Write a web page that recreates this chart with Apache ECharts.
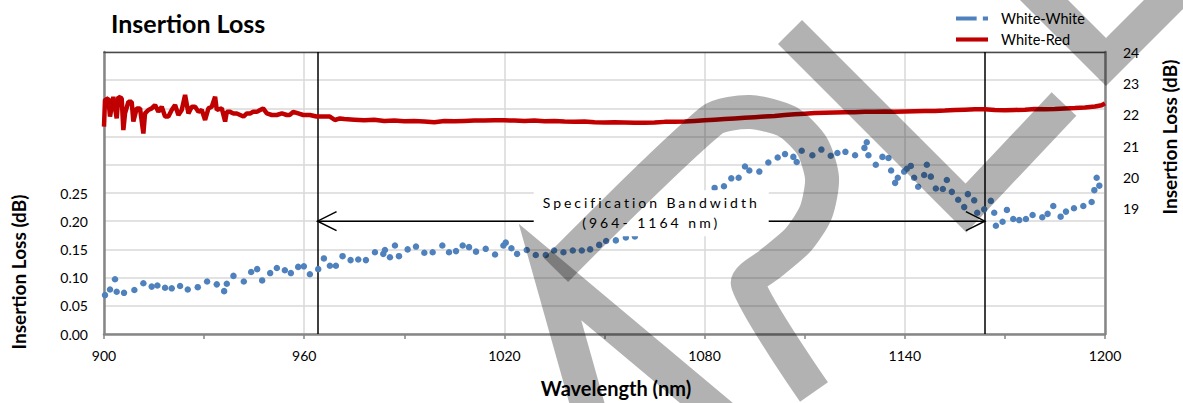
<!DOCTYPE html>
<html><head><meta charset="utf-8">
<script src="https://cdn.jsdelivr.net/npm/echarts@6/dist/echarts.min.js"></script>
<style>html,body{margin:0;padding:0;background:#fff}#c{width:1183px;height:403px}</style>
</head><body><div id="c"></div><script>
// ---- data ----
const wwX = [900.3,901.8,903.3,903.8,906.0,909.1,911.8,914.3,916.0,918.3,
920.3,922.8,925.1,928.1,930.9,933.8,936.0,936.8,938.8,941.9,
944.1,945.9,947.4,949.8,951.8,954.2,956.0,958.2,959.9,961.7,
964.2,965.9,967.7,969.5,971.5,973.9,976.2,978.5,981.2,983.7,
984.2,985.7,987.2,988.4,991.0,993.5,996.0,998.5,1001.4,1003.4,
1005.5,1007.5,1009.4,1011.5,1014.4,1017.2,1019.7,1020.4,1022.1,1023.8,
1026.7,1029.4,1032.4,1034.9,1037.7,1040.5,1043.2,1045.7,1048.4,1050.5,
1053.4,1056.4,1059.1,1083.0,1085.8,1088.0,1090.2,1092.1,1093.4,1096.4,
1099.1,1101.9,1104.1,1106.6,1107.6,1109.1,1112.3,1115.0,1117.8,1119.8,
1122.2,1125.1,1127.9,1128.6,1129.1,1131.3,1133.3,1135.1,1135.9,1137.1,
1137.9,1139.8,1140.6,1141.8,1142.8,1144.0,1145.8,1146.6,1147.8,1149.3,
1151.4,1152.6,1154.1,1156.0,1157.8,1158.9,1160.8,1161.7,1163.8,1165.8,
1166.8,1167.3,1169.3,1170.6,1172.5,1174.3,1176.3,1178.3,1181.2,1182.8,
1184.5,1186.7,1188.3,1190.7,1193.5,1196.0,1196.8,1197.5,1198.3];
const wwY = [0.069,0.079,0.097,0.075,0.073,0.078,0.090,0.084,0.086,0.082,
0.081,0.085,0.079,0.083,0.093,0.088,0.076,0.089,0.103,0.093,
0.110,0.115,0.095,0.108,0.117,0.113,0.108,0.119,0.120,0.106,
0.115,0.134,0.121,0.121,0.138,0.131,0.132,0.131,0.145,0.142,
0.149,0.136,0.157,0.138,0.150,0.155,0.144,0.145,0.157,0.145,
0.147,0.157,0.154,0.146,0.151,0.141,0.157,0.162,0.152,0.142,
0.149,0.140,0.140,0.148,0.145,0.148,0.148,0.150,0.158,0.165,
0.166,0.171,0.173,0.259,0.262,0.276,0.277,0.297,0.290,0.288,
0.304,0.313,0.319,0.314,0.305,0.325,0.317,0.327,0.316,0.321,
0.323,0.317,0.330,0.340,0.317,0.300,0.314,0.312,0.290,0.268,
0.277,0.288,0.293,0.298,0.277,0.261,0.282,0.300,0.279,0.258,
0.257,0.273,0.252,0.238,0.225,0.248,0.237,0.215,0.221,0.236,
0.215,0.192,0.199,0.220,0.204,0.202,0.204,0.211,0.207,0.213,
0.227,0.208,0.217,0.223,0.227,0.234,0.255,0.277,0.263];
const wrX = [900.0,900.3,901.3,901.8,902.8,903.8,904.3,905.3,905.8,906.3,
907.3,908.3,908.8,909.8,910.8,911.8,912.3,913.3,914.3,915.3,
916.3,917.3,918.3,919.3,920.3,921.3,922.3,923.3,924.3,925.3,
926.3,927.3,928.3,929.3,930.3,931.3,932.3,933.3,933.8,935.3,
936.3,936.8,937.8,938.8,939.8,940.8,941.8,942.8,943.8,944.7,
945.8,946.8,947.7,948.8,950.3,951.8,953.3,954.8,955.7,956.7,
958.2,959.7,961.7,963.7,965.7,967.7,969.2,970.7,
972,975,978,981,984,987,990,993,996,999,1002,1005,1008,1011,1014,1017,1020,
1023,1026,1029,1032,1035,1038,1041,1044,1047,1050,1053,1056,1059,1062,1065,
1068,1071,1074,1077,1080,1083,1086,1089,1092,1095,1098,1101,1104,1107,1110,
1113,1116,1119,1122,1125,1128,1131,1134,1137,1140,1143,1146,1149,1152,1155,
1158,1161,1164,1167,1170,1173,1176,1179,1182,1185,1188,1191,1194,1197,1199,1200];
const wrY = [21.62,22.47,22.52,21.94,22.57,21.88,22.57,22.52,21.51,22.04,
22.41,22.41,21.78,22.20,22.20,21.40,22.04,22.15,22.20,22.31,
22.09,22.25,21.94,21.94,22.15,22.31,21.99,22.15,22.63,22.04,
22.25,22.25,22.09,22.15,21.83,22.20,22.25,22.57,22.15,22.20,
21.78,22.09,22.09,22.04,22.04,21.99,21.94,22.04,22.04,22.09,
22.09,22.15,22.20,22.04,21.99,21.99,22.04,21.99,21.99,22.09,
22.04,21.99,21.99,21.94,21.94,21.94,21.83,21.88,
21.86,21.84,21.82,21.84,21.80,21.81,21.79,21.80,21.78,21.76,21.80,21.79,21.80,21.81,21.81,21.82,21.82,
21.81,21.80,21.81,21.79,21.80,21.78,21.77,21.78,21.76,21.75,21.76,21.75,21.74,21.74,21.75,
21.77,21.77,21.78,21.80,21.82,21.84,21.86,21.88,21.90,21.92,21.94,21.96,21.99,22.01,22.03,
22.05,22.06,22.07,22.08,22.08,22.09,22.09,22.10,22.09,22.10,22.11,22.12,22.12,22.13,22.15,
22.16,22.17,22.17,22.15,22.14,22.15,22.16,22.18,22.17,22.18,22.20,22.21,22.23,22.26,22.30,22.36];
const xRange = [900, 1200], xStep = 60;
const leftRange = [0, 0.5], leftStep = 0.05, leftLabelMax = 0.25;
const rightRange = [15, 24], rightStep = 1, rightLabelMin = 19;
const specBand = [964, 1164];      // specification bandwidth (nm)
const arrowLevel = 0.20;           // arrow drawn at this left-axis value
const FONT = 'Lato, "Liberation Sans", sans-serif';

const chart = echarts.init(document.getElementById('c'), null, {renderer: 'svg'});
const axisGray = '#868686', gridGray = '#d9d9d9';
const option = {
  animation: false,
  title: {text: 'Insertion Loss', left: 106, top: 5,
    textStyle: {fontFamily: FONT, fontSize: 25, fontWeight: 'bold', color: '#000'}},
  legend: {orient: 'vertical', left: 951, top: 5, itemWidth: 32, itemHeight: 5, itemGap: 4,
    textStyle: {fontFamily: FONT, fontSize: 14.5, color: '#000', lineHeight: 17, padding: [0, 0, 0, 8]},
    data: [{name: 'White-White', icon: 'path://M0,0H20V4H0Z M26,0H31V4H26Z'},
           {name: 'White-Red', icon: 'path://M0,0H31V4H0Z'}]},
  grid: {left: 104, right: 78, top: 52, bottom: 69},
  xAxis: [{type: 'value', min: xRange[0], max: xRange[1], interval: xStep,
      axisLine: {lineStyle: {color: axisGray, width: 2.5}},
      axisTick: {show: true, length: 5, lineStyle: {color: axisGray, width: 1.5}},
      minorTick: {show: true, splitNumber: 2, length: 5, lineStyle: {color: axisGray, width: 1.5}},
      splitLine: {show: true, lineStyle: {color: gridGray, width: 1.5}},
      axisLabel: {margin: 14, color: '#000', fontSize: 14, fontFamily: FONT, formatter: v => String(v)}},
    {type: 'value', position: 'top', min: xRange[0], max: xRange[1],
      axisLine: {show: true, lineStyle: {color: '#4a4a4a', width: 1.3}},
      axisTick: {show: false}, axisLabel: {show: false}, splitLine: {show: false}}],
  yAxis: [{type: 'value', min: leftRange[0], max: leftRange[1], interval: leftStep,
      axisLine: {show: true, lineStyle: {color: axisGray, width: 2.5}},
      axisTick: {show: false},
      splitLine: {show: true, lineStyle: {color: gridGray, width: 1.5}},
      axisLabel: {margin: 16, color: '#000', fontSize: 14, fontFamily: FONT,
        formatter: v => v <= leftLabelMax + 1e-9 ? v.toFixed(2) : ''}},
    {type: 'value', position: 'right', min: rightRange[0], max: rightRange[1], interval: rightStep,
      axisLine: {show: true, lineStyle: {color: axisGray, width: 2.5}},
      axisTick: {show: false}, splitLine: {show: false},
      axisLabel: {margin: 18, color: '#000', fontSize: 14, fontFamily: FONT,
        formatter: v => v >= rightLabelMin - 1e-9 ? String(Math.round(v)) : ''}}],
  series: [
    {name: 'White-White', type: 'scatter', xAxisIndex: 0, yAxisIndex: 0, symbolSize: 6.5,
      itemStyle: {color: '#4f81bd', opacity: 1}, z: 3,
      data: wwX.map((x, i) => [x, wwY[i]])},
    {name: 'White-Red', type: 'line', xAxisIndex: 0, yAxisIndex: 1, showSymbol: false,
      lineStyle: {color: '#c00000', width: 4.5}, itemStyle: {color: '#c00000'}, z: 4,
      data: wrX.map((x, i) => [x, wrY[i]]),
      markLine: {silent: true, symbol: 'none', label: {show: false}, z: 3,
        lineStyle: {color: '#000', width: 1.5, type: 'solid'},
        data: specBand.map(v => ({xAxis: v}))}}
  ]
};
chart.setOption(option);

// ---- annotations positioned through the chart's own scales ----
const pA = chart.convertToPixel({xAxisIndex: 0, yAxisIndex: 0}, [specBand[0], arrowLevel]);
const pB = chart.convertToPixel({xAxisIndex: 0, yAxisIndex: 0}, [specBand[1], arrowLevel]);
const midX = (pA[0] + pB[0]) / 2, ay = pA[1];
const WM = 'rgba(0,0,0,0.3)';
function wm(points, w, smooth) {
  return {type: 'polyline', z: 300, silent: true, shape: {points, smooth: smooth || 0},
    style: {stroke: WM, lineWidth: w || 34, fill: null, lineJoin: 'miter', lineCap: 'butt', miterLimit: 4}};
}
const graphics = [
  {type: 'line', z: 90, silent: true, shape: {x1: pA[0], y1: ay, x2: pB[0], y2: ay},
    style: {stroke: '#000', lineWidth: 1.5}},
  {type: 'polyline', z: 90, silent: true,
    shape: {points: [[pA[0] + 19, ay - 9.5], [pA[0], ay], [pA[0] + 19, ay + 9.5]]},
    style: {stroke: '#000', lineWidth: 1.5, fill: null}},
  {type: 'polyline', z: 90, silent: true,
    shape: {points: [[pB[0] - 19, ay - 9.5], [pB[0], ay], [pB[0] - 19, ay + 9.5]]},
    style: {stroke: '#000', lineWidth: 1.5, fill: null}},
  {type: 'rect', z: 95, silent: true, shape: {x: midX - 117.5, y: ay - 31, width: 235, height: 46},
    style: {fill: '#fff'}},
  {type: 'text', z: 96, silent: true, x: midX, y: ay - 19,
    style: {text: 'Specification Bandwidth', fill: '#000', textAlign: 'center', textVerticalAlign: 'middle',
      font: '14px ' + FONT}},
  {type: 'text', z: 96, silent: true, x: midX, y: ay + 1,
    style: {text: '(964- 1164 nm)', fill: '#000', textAlign: 'center', textVerticalAlign: 'middle',
      font: '14px ' + FONT}},
  {type: 'text', z: 96, silent: true, x: 18, y: 272, rotation: Math.PI / 2,
    style: {text: 'Insertion Loss (dB)', fill: '#000', textAlign: 'center', textVerticalAlign: 'middle',
      font: 'bold 19px ' + FONT}},
  {type: 'text', z: 96, silent: true, x: 1169, y: 137, rotation: Math.PI / 2,
    style: {text: 'Insertion Loss (dB)', fill: '#000', textAlign: 'center', textVerticalAlign: 'middle',
      font: 'bold 19px ' + FONT}},
  {type: 'text', z: 96, silent: true, x: 616, y: 388,
    style: {text: 'Wavelength (nm)', fill: '#000', textAlign: 'center', textVerticalAlign: 'middle',
      font: 'bold 20px ' + FONT}},
  // "SAMPLE" watermark strokes
  wm([[790, 32], [966, 208], [1064, 104]]),
  wm([[1000, -44], [1106, 62], [1210, -42]]),
  wm([[590, 414], [550, 272], [722, 416]]),
  wm([[556, 270], [712, 120], [750, 112], [788, 122], [812, 146], [822, 178], [816, 212], [798, 240], [770, 264], [748, 284], [814, 392]], 34, 0.25)
];
chart.setOption({graphic: graphics});

function spread() {
  const targets = {'Specification Bandwidth': 214, '(964- 1164 nm)': 135};
  document.querySelectorAll('#c svg text').forEach(t => {
    const s = t.textContent;
    if (targets[s] && !t.dataset.sp) {
      t.style.letterSpacing = '0px';
      const w = t.getComputedTextLength();
      const ls = (targets[s] - w) / (s.length - 1);
      t.style.letterSpacing = ls.toFixed(2) + 'px';
      t.dataset.sp = '1';
    }
  });
}
spread();
requestAnimationFrame(spread);
setTimeout(spread, 50);
</script></body></html>
